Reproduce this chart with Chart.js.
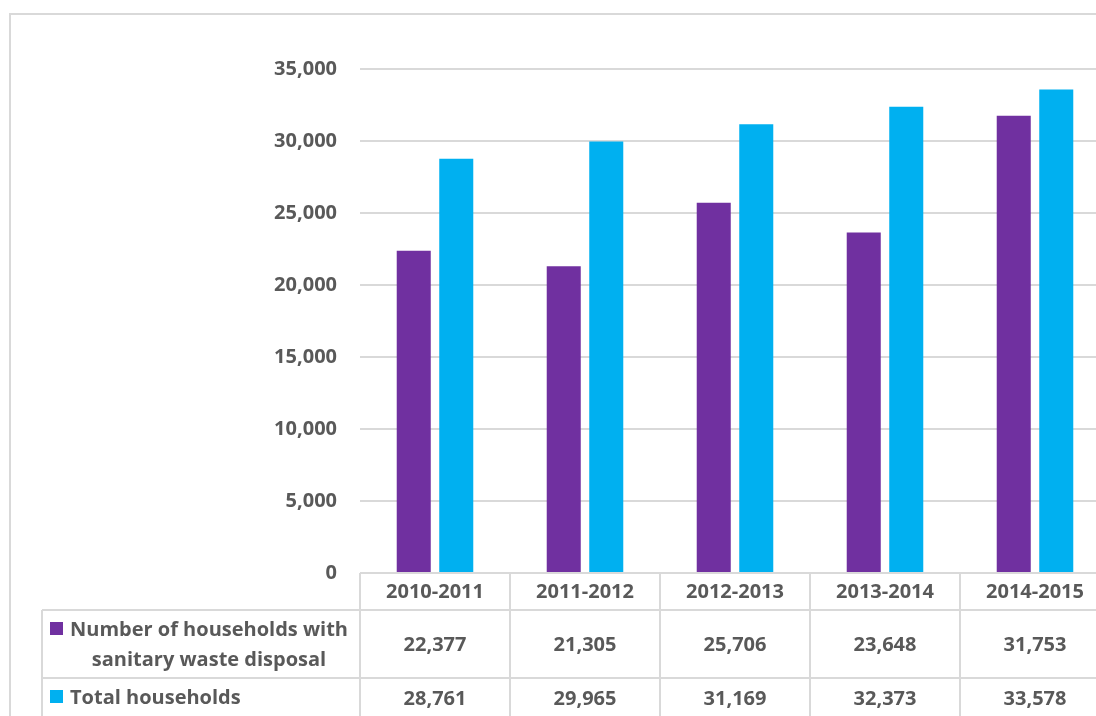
<!DOCTYPE html>
<html>
<head>
<meta charset="utf-8">
<script src="https://cdn.jsdelivr.net/npm/chart.js@4.4.1/dist/chart.umd.min.js"></script>
<style>
  html, body { margin: 0; padding: 0; background: #fff; overflow: hidden; }
  #wrap { position: relative; width: 1130px; height: 716px; }
</style>
</head>
<body>
<div id="wrap"><canvas id="chart"></canvas></div>
<script>
  // Data
  const categories = ["2010-2011", "2011-2012", "2012-2013", "2013-2014", "2014-2015"];
  const sanitaryHouseholds = [22377, 21305, 25706, 23648, 31753];
  const totalHouseholds = [28761, 29965, 31169, 32373, 33578];
  const seriesNames = [["Number of households with", "sanitary waste disposal"], ["Total households"]];
  const seriesColors = ["#7030A0", "#00B0F0"];

  const FONT = "'Open Sans', Lato, sans-serif";
  const TEXT = "#595959";
  const LINE = "#d9d9d9";

  const fmt = n => Number(n).toLocaleString("en-US");

  // Excel-style data table under the plot
  const dataTable = {
    id: "dataTable",
    afterDraw(chart) {
      const { ctx, chartArea: area, scales } = chart;
      const x = scales.x;
      const slot = (x.right - x.left) / categories.length;
      const top = area.bottom;
      const rows = [top, top + 37, top + 105, top + 175]; // header, row1, row2 bottoms
      const tableLeft = 42;

      ctx.save();
      ctx.strokeStyle = LINE;
      ctx.lineWidth = 2;

      // outer chart frame (runs off the picture)
      ctx.strokeRect(10, 14, 1200, 800);

      ctx.beginPath();
      ctx.moveTo(area.left, rows[0]); ctx.lineTo(x.right, rows[0]);
      ctx.moveTo(tableLeft, rows[1]); ctx.lineTo(x.right, rows[1]);
      ctx.moveTo(tableLeft, rows[2]); ctx.lineTo(x.right, rows[2]);
      ctx.moveTo(tableLeft, rows[1]); ctx.lineTo(tableLeft, rows[3]);
      for (let i = 0; i <= categories.length; i++) {
        const cx = Math.round(x.left + i * slot);
        ctx.moveTo(cx, rows[0]); ctx.lineTo(cx, rows[3]);
      }
      ctx.stroke();

      ctx.fillStyle = TEXT;
      ctx.font = `bold 20px ${FONT}`;
      ctx.textAlign = "center";
      ctx.textBaseline = "middle";

      const series = [sanitaryHouseholds, totalHouseholds];
      categories.forEach((c, i) => {
        const cx = x.getPixelForValue(i);
        ctx.fillText(c, cx, (rows[0] + rows[1]) / 2 + 1);
        series.forEach((vals, s) => {
          ctx.fillText(fmt(vals[i]), cx, (rows[s + 1] + rows[s + 2]) / 2 - (s === 1 ? 15 : 0) + 1);
        });
      });

      // legend cells
      const rowMid = [(rows[1] + rows[2]) / 2, rows[2] + 19];
      seriesNames.forEach((lines, s) => {
        const keyY = lines.length > 1 ? rowMid[s] - 15 : rowMid[s];
        ctx.fillStyle = seriesColors[s];
        ctx.fillRect(50, Math.round(keyY - 7), 13, 13);
        ctx.fillStyle = TEXT;
        ctx.textAlign = "left";
        ctx.fillText(lines[0], 70, keyY + 1);
        if (lines.length > 1) {
          const w = ctx.measureText(lines[0]).width;
          ctx.textAlign = "center";
          ctx.fillText(lines[1], 70 + w / 2, keyY + 31);
        }
      });
      ctx.restore();
    }
  };

  new Chart(document.getElementById("chart"), {
    type: "bar",
    data: {
      labels: categories,
      datasets: [
        { label: seriesNames[0].join(" "), data: sanitaryHouseholds, backgroundColor: seriesColors[0] },
        { label: seriesNames[1].join(" "), data: totalHouseholds, backgroundColor: seriesColors[1] }
      ]
    },
    options: {
      responsive: true,
      maintainAspectRatio: false,
      animation: false,
      categoryPercentage: 0.567,
      barPercentage: 0.8,
      layout: { padding: { top: 69, bottom: 143, left: 0, right: 20 } },
      plugins: { legend: { display: false }, tooltip: { enabled: false } },
      scales: {
        x: { display: false },
        y: {
          min: 0,
          max: 35000,
          afterFit(scale) { scale.width = 360; },
          border: { display: false },
          grid: { color: LINE, lineWidth: 2, drawTicks: false },
          ticks: {
            stepSize: 5000,
            padding: 23,
            color: TEXT,
            font: { family: FONT, size: 20, weight: "bold" },
            callback: v => fmt(v)
          }
        }
      }
    },
    plugins: [dataTable]
  });
</script>
</body>
</html>
